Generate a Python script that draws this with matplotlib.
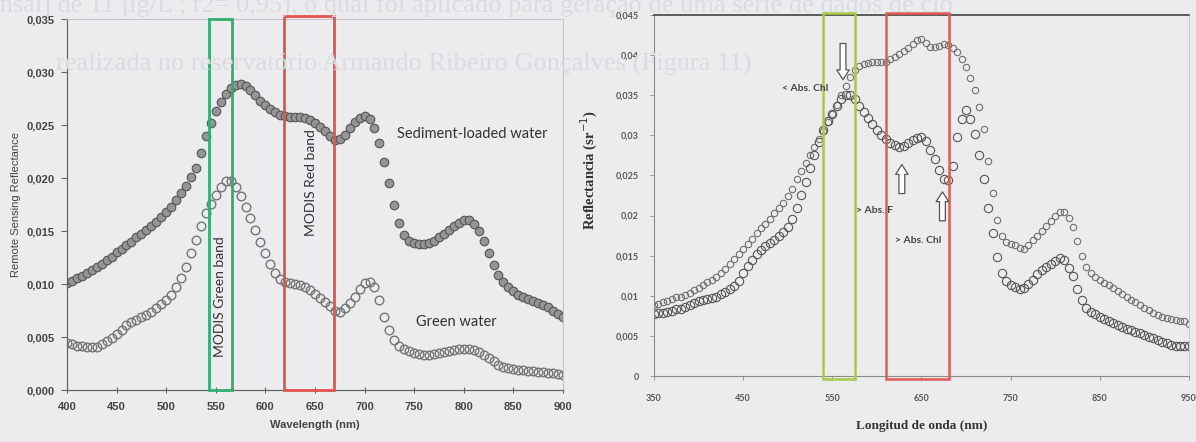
import matplotlib
matplotlib.use('Agg')
import matplotlib.pyplot as plt
from matplotlib.patches import Rectangle
import numpy as np

plt.rcParams['font.family'] = ['Liberation Sans', 'DejaVu Sans']

# ---- left chart: remote sensing reflectance, 400-900 nm every 5 nm ----
wl_left = np.arange(400, 901, 5)
sediment = [
    0.0101, 0.0103, 0.0106, 0.0108, 0.0110, 0.0113, 0.0116, 0.0119, 0.0123, 0.0126,
    0.0130, 0.0133, 0.0137, 0.0140, 0.0144, 0.0147, 0.0151, 0.0155, 0.0159, 0.0163,
    0.0168, 0.0173, 0.0179, 0.0186, 0.0193, 0.0201, 0.0210, 0.0224, 0.0240, 0.0252,
    0.0263, 0.0272, 0.0279, 0.0285, 0.0288, 0.0289, 0.0287, 0.0283, 0.0278, 0.0273,
    0.0269, 0.0265, 0.0262, 0.0260, 0.0259, 0.0258, 0.0258, 0.0258, 0.0257, 0.0255,
    0.0252, 0.0248, 0.0244, 0.0240, 0.0236, 0.0237, 0.0241, 0.0247, 0.0253, 0.0257,
    0.0259, 0.0256, 0.0247, 0.0233, 0.0215, 0.0195, 0.0175, 0.0158, 0.0146, 0.0141,
    0.0139, 0.0138, 0.0138, 0.0139, 0.0141, 0.0144, 0.0147, 0.0151, 0.0155, 0.0158,
    0.0160, 0.0160, 0.0157, 0.0150, 0.0141, 0.0129, 0.0118, 0.0109, 0.0102, 0.0097,
    0.0093, 0.0090, 0.0088, 0.0086, 0.0084, 0.0082, 0.0080, 0.0078, 0.0075, 0.0072,
    0.0069]
green_water = [
    0.0044, 0.0043, 0.0042, 0.0042, 0.0041, 0.0041, 0.0041, 0.0043, 0.0046, 0.0049,
    0.0053, 0.0057, 0.0061, 0.0064, 0.0066, 0.0069, 0.0071, 0.0074, 0.0077, 0.0081,
    0.0085, 0.0090, 0.0097, 0.0106, 0.0116, 0.0129, 0.0142, 0.0155, 0.0167, 0.0176,
    0.0184, 0.0192, 0.0197, 0.0197, 0.0192, 0.0183, 0.0173, 0.0162, 0.0151, 0.0140,
    0.0129, 0.0119, 0.0110, 0.0105, 0.0102, 0.0101, 0.0100, 0.0099, 0.0097, 0.0094,
    0.0091, 0.0087, 0.0083, 0.0079, 0.0075, 0.0074, 0.0077, 0.0082, 0.0088, 0.0095,
    0.0101, 0.0102, 0.0097, 0.0085, 0.0069, 0.0057, 0.0047, 0.0042, 0.0039, 0.0037,
    0.0035, 0.0034, 0.0033, 0.0033, 0.0034, 0.0035, 0.0036, 0.0037, 0.0038, 0.0039,
    0.0039, 0.0039, 0.0038, 0.0036, 0.0033, 0.0030, 0.0027, 0.0024, 0.0022, 0.0021,
    0.0020, 0.0019, 0.0019, 0.0018, 0.0018, 0.0017, 0.0017, 0.0016, 0.0016, 0.0015,
    0.0014]
left_xticks = [400, 450, 500, 550, 600, 650, 700, 750, 800, 850, 900]
left_yticks = [0, 0.005, 0.010, 0.015, 0.020, 0.025, 0.030, 0.035]
left_ylabels = ['0,000', '0,005', '0,010', '0,015', '0,020', '0,025', '0,030', '0,035']
modis_green = (543, 566)
modis_red = (619, 669)

# ---- right chart: reflectancia, 350-950 nm every 5 nm ----
wl_right = np.arange(350, 951, 5)
refl_a = [
    0.0088, 0.0090, 0.0092, 0.0094, 0.0096, 0.0098, 0.0099, 0.0101, 0.0104, 0.0107,
    0.0110, 0.0114, 0.0117, 0.0120, 0.0124, 0.0129, 0.0134, 0.0140, 0.0146, 0.0152,
    0.0158, 0.0164, 0.0171, 0.0178, 0.0184, 0.0190, 0.0196, 0.0203, 0.0209, 0.0216,
    0.0224, 0.0233, 0.0245, 0.0255, 0.0265, 0.0275, 0.0286, 0.0296, 0.0306, 0.0317,
    0.0327, 0.0338, 0.0350, 0.0362, 0.0373, 0.0381, 0.0386, 0.0389, 0.0390, 0.0391,
    0.0391, 0.0391, 0.0392, 0.0395, 0.0398, 0.0402, 0.0405, 0.0409, 0.0414, 0.0419,
    0.0420, 0.0415, 0.0410, 0.0410, 0.0412, 0.0414, 0.0413, 0.0409, 0.0404, 0.0395,
    0.0385, 0.0372, 0.0357, 0.0335, 0.0308, 0.0268, 0.0228, 0.0195, 0.0174, 0.0167,
    0.0165, 0.0163, 0.0160, 0.0158, 0.0163, 0.0169, 0.0175, 0.0181, 0.0187, 0.0193,
    0.0199, 0.0204, 0.0205, 0.0197, 0.0186, 0.0168, 0.0150, 0.0136, 0.0128, 0.0124,
    0.0120, 0.0116, 0.0113, 0.0110, 0.0106, 0.0102, 0.0099, 0.0095, 0.0092, 0.0088,
    0.0085, 0.0082, 0.0079, 0.0076, 0.0074, 0.0072, 0.0071, 0.0070, 0.0069, 0.0068,
    0.0065]
refl_b = [
    0.0077, 0.0078, 0.0079, 0.0080, 0.0081, 0.0083, 0.0084, 0.0086, 0.0089, 0.0091,
    0.0093, 0.0095, 0.0096, 0.0097, 0.0099, 0.0102, 0.0105, 0.0108, 0.0112, 0.0119,
    0.0128, 0.0137, 0.0145, 0.0152, 0.0157, 0.0162, 0.0166, 0.0170, 0.0174, 0.0179,
    0.0186, 0.0196, 0.0210, 0.0226, 0.0242, 0.0259, 0.0275, 0.0292, 0.0307, 0.0318,
    0.0327, 0.0336, 0.0345, 0.0350, 0.0350, 0.0345, 0.0337, 0.0329, 0.0322, 0.0314,
    0.0307, 0.0300, 0.0295, 0.0291, 0.0288, 0.0286, 0.0287, 0.0290, 0.0294, 0.0297,
    0.0298, 0.0293, 0.0282, 0.0270, 0.0257, 0.0245, 0.0244, 0.0262, 0.0298, 0.0320,
    0.0332, 0.0320, 0.0302, 0.0275, 0.0245, 0.0210, 0.0178, 0.0148, 0.0128, 0.0119,
    0.0114, 0.0111, 0.0109, 0.0110, 0.0115, 0.0120, 0.0127, 0.0132, 0.0136, 0.0140,
    0.0143, 0.0147, 0.0145, 0.0135, 0.0125, 0.0108, 0.0095, 0.0085, 0.0080, 0.0077,
    0.0074, 0.0071, 0.0068, 0.0066, 0.0063, 0.0061, 0.0059, 0.0057, 0.0055, 0.0053,
    0.0051, 0.0049, 0.0047, 0.0045, 0.0043, 0.0041, 0.0039, 0.0038, 0.0037, 0.0038,
    0.0037]
right_xticks = [350, 450, 550, 650, 750, 850, 950]
right_yticks = [0, 0.005, 0.01, 0.015, 0.02, 0.025, 0.03, 0.035, 0.04, 0.045]
right_ylabels = ['0', '0,005', '0,01', '0,015', '0,02', '0,025', '0,03', '0,035', '0,04', '0,045']
band_green = (540, 575.5)
band_red = (610, 680.5)

bg = '#ececee'
fig = plt.figure(figsize=(11.96, 4.42), dpi=100, facecolor=bg)

# faint text from the scanned page showing through behind the figures
ghost = '#dcdce0'
fig.text(-0.01, 0.985, 'ensal] de 11 µg/L ; r2= 0,95), o qual foi aplicado para geração de uma série de dados de clo',
         fontsize=19, family='Liberation Serif', color=ghost, va='center', zorder=0)
fig.text(0.628, 0.855, 'realizada no reservatório Armando Ribeiro Gonçalves (Figura 11)',
         fontsize=19, family='Liberation Serif', color=ghost, va='center', ha='right', zorder=0)

# ================= left =================
ax1 = fig.add_axes([0.056, 0.1176, 0.4147, 0.839])
ax1.set_facecolor('none')
ax1.plot(wl_left, sediment, ls='none', marker='o', ms=6.2, mfc='#959595', mec='#555555', mew=0.8)
ax1.plot(wl_left, green_water, ls='none', marker='o', ms=6.2, mfc='none', mec='#757575', mew=1.0)

ax1.add_patch(Rectangle((modis_green[0], 0), modis_green[1] - modis_green[0], 0.035,
                        fill=False, ec='#2fae6e', lw=2, clip_on=False, zorder=3))
ax1.add_patch(Rectangle((modis_red[0], 0), modis_red[1] - modis_red[0], 0.0353,
                        fill=False, ec='#e2544e', lw=2, clip_on=False, zorder=3))
ax1.text(sum(modis_green) / 2, 0.0088, 'MODIS Green band', rotation=90, ha='center', va='center',
         fontsize=10, family='Lato', color='#333333')
ax1.text(sum(modis_red) / 2 + 2, 0.0196, 'MODIS Red band', rotation=90, ha='center', va='center',
         fontsize=10, family='Lato', color='#333333')
ax1.text(733, 0.0242, 'Sediment-loaded water', ha='left', va='center', fontsize=10.5,
         family='Lato', color='#333333')
ax1.text(752, 0.0064, 'Green water', ha='left', va='center', fontsize=10.5,
         family='Lato', color='#333333')

ax1.set_xlim(400, 900)
ax1.set_ylim(0, 0.035)
ax1.set_xticks(left_xticks)
ax1.set_xticklabels([str(t) for t in left_xticks], fontsize=8, fontweight='bold', color='#444444')
ax1.set_yticks(left_yticks)
ax1.set_yticklabels(left_ylabels, fontsize=8, fontweight='bold', color='#444444')
ax1.tick_params(axis='x', direction='inout', length=5, width=0.8, color='#666666', pad=6)
ax1.tick_params(axis='y', direction='out', length=4, width=0.8, color='#666666', pad=5)
for s in ['left', 'bottom']:
    ax1.spines[s].set_color('#666666')
    ax1.spines[s].set_linewidth(0.9)
for s in ['top', 'right']:
    ax1.spines[s].set_color('#c4c4c8')
    ax1.spines[s].set_linewidth(0.8)
ax1.set_xlabel('Wavelength (nm)', fontsize=8, fontweight='bold', color='#444444', labelpad=6)
ax1.set_ylabel('Remote Sensing Reflectance', fontsize=8, color='#444444', labelpad=4)

# ================= right =================
ax2 = fig.add_axes([0.5468, 0.1493, 0.4473, 0.8167])
ax2.set_facecolor('none')
ax2.plot(wl_right, refl_a, ls='none', marker='o', ms=4.6, mfc='none', mec='#707070', mew=0.8)
ax2.plot(wl_right, refl_b, ls='none', marker='o', ms=6.0, mfc='none', mec='#555555', mew=0.8)

ax2.add_patch(Rectangle((band_green[0], -0.0004), band_green[1] - band_green[0], 0.0457,
                        fill=False, ec='#a9c84c', lw=1.8, clip_on=False, zorder=3))
ax2.add_patch(Rectangle((band_red[0], -0.0004), band_red[1] - band_red[0], 0.0457,
                        fill=False, ec='#e05a5a', lw=1.8, clip_on=False, zorder=3))

arrow = dict(arrowstyle='simple,head_width=0.9,head_length=0.7,tail_width=0.42',
             fc='white', ec='#555555', lw=0.9)
ax2.annotate('', xy=(562, 0.0366), xytext=(562, 0.0418), arrowprops=arrow)
ax2.annotate('', xy=(628, 0.0267), xytext=(628, 0.0224), arrowprops=arrow)
ax2.annotate('', xy=(673.5, 0.0233), xytext=(673.5, 0.0190), arrowprops=arrow)
ax2.text(546, 0.0358, '< Abs. Chl', ha='right', va='center', fontsize=7.5, family='Lato',
         fontweight='bold', color='#444444')
ax2.text(577, 0.0206, '> Abs. F', ha='left', va='center', fontsize=7.5, family='Lato',
         fontweight='bold', color='#444444')
ax2.text(620, 0.0169, '> Abs. Chl', ha='left', va='center', fontsize=7.5, family='Lato',
         fontweight='bold', color='#444444')

ax2.set_xlim(350, 950)
ax2.set_ylim(0, 0.045)
ax2.set_xticks(right_xticks)
ax2.set_xticklabels([str(t) for t in right_xticks], fontsize=6.5, family='Lato',
                    fontweight='bold', color='#555555')
ax2.set_yticks(right_yticks)
ax2.set_yticklabels(right_ylabels, fontsize=6.5, family='Lato', fontweight='bold', color='#555555')
ax2.tick_params(axis='x', direction='out', length=3, width=0.6, color='#888888', pad=10)
ax2.tick_params(axis='y', direction='out', length=3, width=0.6, color='#888888', pad=8)
for s in ['left', 'bottom']:
    ax2.spines[s].set_color('#8a8a8a')
    ax2.spines[s].set_linewidth(0.8)
ax2.spines['top'].set_color('#333333')
ax2.spines['top'].set_linewidth(1.1)
ax2.spines['right'].set_color('#c8c8cc')
ax2.spines['right'].set_linewidth(0.7)
ax2.set_xlabel('Longitud de onda (nm)', fontsize=9.5, family='Liberation Serif',
               fontweight='bold', color='#333333', labelpad=12)
ax2.set_ylabel('Reflectancia (sr$^{-1}$)', fontsize=10.5, family='Liberation Serif',
               fontweight='bold', color='#333333')
ax2.yaxis.set_label_coords(-0.1, 0.57)

fig.savefig('out.png', dpi=100, facecolor=bg)
